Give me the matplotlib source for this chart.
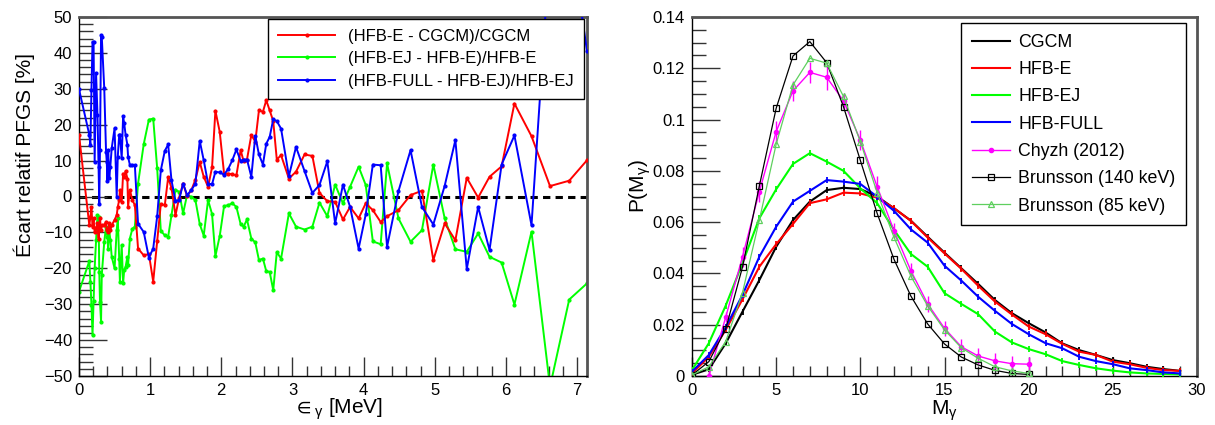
import numpy as np
import matplotlib
matplotlib.use('Agg')
import matplotlib.pyplot as plt
from matplotlib.ticker import MultipleLocator, FuncFormatter

plt.rcParams['font.family'] = ['Liberation Sans', 'DejaVu Sans']
plt.rcParams['mathtext.fontset'] = 'custom'
plt.rcParams['mathtext.rm'] = 'Liberation Sans'
plt.rcParams['mathtext.it'] = 'Liberation Sans:italic'
plt.rcParams['mathtext.fallback'] = 'stixsans'

# ---- left panel: relative differences of PFGS spectra [%] ----
energy = [0.000, 0.145, 0.160, 0.175, 0.190, 0.205, 0.220, 0.240, 0.260, 0.275,
          0.285, 0.295, 0.310, 0.320, 0.355, 0.380, 0.390, 0.400, 0.410, 0.425,
          0.440, 0.460, 0.500, 0.530, 0.545, 0.565, 0.575, 0.600, 0.620, 0.635,
          0.655, 0.680, 0.690, 0.715, 0.750, 0.785, 0.830, 0.910,
          0.982, 1.043, 1.099, 1.150, 1.206, 1.253, 1.300, 1.356, 1.407, 1.463,
          1.519, 1.580, 1.636, 1.697, 1.753, 1.814, 1.870, 1.917, 1.978, 2.039,
          2.095, 2.155, 2.212, 2.272, 2.314, 2.361, 2.422, 2.478, 2.529, 2.585, 2.632,
          2.68, 2.73, 2.78, 2.84, 2.95, 3.05, 3.17, 3.28, 3.38, 3.49,
          3.60, 3.71, 3.81, 3.93, 4.03, 4.13, 4.24, 4.33, 4.49, 4.66,
          4.82, 4.98, 5.14, 5.29, 5.45, 5.61, 5.77, 5.94, 6.12, 6.36,
          6.62, 6.89, 7.14]

rel_e_cgcm = [17.2, -8.0, -5.7, -2.9, -8.5, -6.0, -10.0, -8.9, -7.5, -11.7,
              -8.0, -6.1, -9.4, -8.0, -8.0, -7.0, -9.4, -9.0, -9.8, -7.5,
              -9.4, -8.0, -6.5, -5.2, -2.9, -1.0, 1.8, -1.5, 6.4, 5.5,
              7.1, 5.0, -2.9, 1.8, -1.0, -2.4, -14.5, -16.4,
              -16.0, -23.7, -12.4, -2.1, -2.4, 5.3, 2.4, -5.2, -0.4, 3.6,
              0.1, 1.8, 4.7, 9.6, 5.5, 2.7, 8.1, 23.9, 18.0, 6.4,
              6.4, 6.2, 5.9, 12.9, 9.8, 10.3, 17.1, 15.3, 24.0, 23.6, 26.8,
              24.0, 21.0, 10.3, 11.5, 5.0, 6.9, 11.7, 11.3, 1.0, -1.3,
              -1.5, -6.4, -2.9, -6.1, -1.9, -3.8, -7.1, -5.5, -3.8, 0.4,
              1.6, -17.7, -7.5, -12.2, 5.2, -0.3, 5.5, 8.4, 25.9, 16.8,
              2.9, 4.4, 10.1]

rel_ej_e = [-26.5, -18.0, -23.7, -30.2, -38.6, -29.2, -20.0, -12.2, -5.2, -5.7,
            -21.0, -29.3, -34.9, -21.9, -12.6, -8.4, -10.3, -11.2, -14.5, -9.4,
            -12.0, -16.8, -20.0, -9.4, -6.1, -17.3, -23.7, -13.5, -24.2, -20.5,
            -19.6, -16.8, -19.1, -11.7, -9.0, -8.4, 3.6, 14.6,
            21.4, 21.7, 7.8, -9.6, -10.8, -11.2, -5.2, 1.9, 1.3, -4.7,
            0.4, -0.1, -1.0, -7.7, -10.9, -1.0, -4.9, -16.6, -11.0, -2.7,
            -2.4, -1.9, -2.9, -7.7, -8.4, -6.4, -11.7, -12.8, -17.7, -17.3, -20.8,
            -21.0, -26.1, -15.5, -17.3, -4.7, -8.4, -9.2, -8.4, -1.7, -5.5,
            3.3, -1.9, 2.7, 8.3, 3.2, -12.5, -13.3, 9.2, -6.1, -12.6,
            -9.4, 8.9, -6.1, -14.7, -15.4, -10.3, -16.8, -18.4, -30.1, -9.8,
            -53.0, -28.7, -24.2]

rel_full_ej = [29.9, 17.2, 14.4, 29.7, 43.1, 43.0, 9.7, 34.3, 22.7, 8.3,
               -2.0, 13.0, 45.0, 44.5, 30.1, 12.5, 9.7, 4.2, 13.0, 5.1,
               8.3, 13.5, 19.0, 0.0, 11.1, 17.2, 17.2, 10.7, 22.3, 20.4,
               17.2, 14.4, 11.0, 8.8, 8.8, 8.7, -7.6, -9.9,
               -17.0, -14.5, -5.5, 7.3, 12.7, 14.5, 4.5, -1.2, -1.0, 3.6,
               0.4, 1.8, 3.6, 15.5, 10.1, 3.6, 3.4, 6.9, 6.7, 6.1,
               7.6, 10.1, 13.1, 9.9, 10.3, 10.3, 5.5, 16.9, 11.7, 8.9, 14.7,
               16.6, 21.5, 21.0, 18.9, 5.7, 13.8, 7.1, 1.0, 3.2, 9.8,
               -7.5, 3.3, -2.9, -14.5, -5.0, 8.9, 8.7, -14.0, 1.5, 12.9,
               -2.9, -7.8, 3.0, 15.7, -20.2, -2.9, -14.9, 8.9, 17.0, -8.0,
               70.0, 75.0, 40.5]

# ---- right panel: gamma multiplicity distributions ----
m_model = np.arange(0, 30)
cgcm = [0.0005, 0.0026, 0.0127, 0.0251, 0.0374, 0.0504, 0.0608, 0.0680, 0.0725, 0.0734,
        0.0729, 0.0700, 0.0654, 0.0606, 0.0543, 0.0481, 0.0420, 0.0359, 0.0296, 0.0245,
        0.0206, 0.0170, 0.0127, 0.0101, 0.0082, 0.0062, 0.0050, 0.0036, 0.0027, 0.0020]
hfb_e = [0.0010, 0.0075, 0.0180, 0.0299, 0.0426, 0.0514, 0.0593, 0.0674, 0.0689, 0.0715,
         0.0712, 0.0695, 0.0655, 0.0605, 0.0540, 0.0478, 0.0418, 0.0352, 0.0290, 0.0240,
         0.0193, 0.0163, 0.0125, 0.0095, 0.0082, 0.0056, 0.0046, 0.0032, 0.0023, 0.0020]
hfb_ej = [0.0023, 0.0128, 0.0274, 0.0440, 0.0615, 0.0728, 0.0827, 0.0869, 0.0836, 0.0800,
          0.0732, 0.0674, 0.0570, 0.0476, 0.0426, 0.0323, 0.0281, 0.0241, 0.0173, 0.0131,
          0.0105, 0.0085, 0.0058, 0.0043, 0.0030, 0.0021, 0.0014, 0.0010, 0.0008, 0.0006]
hfb_full = [0.0017, 0.0082, 0.0190, 0.0316, 0.0465, 0.0582, 0.0680, 0.0722, 0.0764, 0.0758,
            0.0749, 0.0699, 0.0644, 0.0572, 0.0520, 0.0430, 0.0372, 0.0309, 0.0254, 0.0203,
            0.0163, 0.0128, 0.0108, 0.0075, 0.0058, 0.0046, 0.0030, 0.0023, 0.0014, 0.0010]

m_chyzh = np.arange(1, 21)
chyzh = [0.0000, 0.0229, 0.0465, 0.0719, 0.0953, 0.1112, 0.1184, 0.1165, 0.1073, 0.0920,
         0.0738, 0.0567, 0.0411, 0.0281, 0.0186, 0.0114, 0.0078, 0.0059, 0.0048, 0.0046]
chyzh_err = [0.002, 0.002, 0.004, 0.004, 0.004, 0.004, 0.004, 0.005, 0.003, 0.004,
             0.004, 0.003, 0.003, 0.003, 0.003, 0.003, 0.003, 0.003, 0.003, 0.003]

m_exp = np.arange(0, 21)
brunsson_140 = [0.0004, 0.0056, 0.0183, 0.0425, 0.0741, 0.1044, 0.1248, 0.1304, 0.1222, 0.1050,
                0.0841, 0.0634, 0.0455, 0.0312, 0.0203, 0.0125, 0.0074, 0.0043, 0.0022, 0.0010,
                0.0006]
brunsson_85 = [0.0004, 0.0036, 0.0134, 0.0325, 0.0608, 0.0904, 0.1135, 0.1239, 0.1220, 0.1090,
               0.0914, 0.0715, 0.0541, 0.0390, 0.0273, 0.0180, 0.0110, 0.0069, 0.0036, 0.0020,
               0.0010]

fig = plt.figure(figsize=(12.15, 4.25), dpi=100)
ax1 = fig.add_axes([79 / 1215, 49 / 425, 508 / 1215, 359 / 425])
ax2 = fig.add_axes([692 / 1215, 49 / 425, 505 / 1215, 359 / 425])


def root_style(ax):
    ax.tick_params(which='both', direction='in', top=False, right=False,
                   labelsize=12, width=1, color='#333333')
    ax.tick_params(which='major', length=14, pad=5)
    ax.tick_params(which='minor', length=7)
    ax.tick_params(axis='y', which='major', length=20)
    ax.tick_params(axis='y', which='minor', length=10)
    for s in ['left', 'bottom']:
        ax.spines[s].set_color('black')
        ax.spines[s].set_linewidth(1)
    for s in ['top', 'right']:
        ax.spines[s].set_color('#555555')
        ax.spines[s].set_linewidth(2)


# left
ax1.axhline(0, color='black', lw=2.2, ls=(0, (2.4, 1.7)), zorder=1)
ax1.plot(energy, rel_e_cgcm, color='#ff0000', lw=1.4, marker='.', ms=4,
         label='(HFB-E - CGCM)/CGCM', zorder=3)
ax1.plot(energy, rel_ej_e, color='#00ff00', lw=1.4, marker='.', ms=4,
         label='(HFB-EJ - HFB-E)/HFB-E', zorder=2)
ax1.plot(energy, rel_full_ej, color='#0000ff', lw=1.4, marker='.', ms=4,
         label='(HFB-FULL - HFB-EJ)/HFB-EJ', zorder=4)
ax1.set_xlim(0, 7.14)
ax1.set_ylim(-50, 50)
ax1.xaxis.set_major_locator(MultipleLocator(1))
ax1.xaxis.set_minor_locator(MultipleLocator(0.2))
ax1.yaxis.set_major_locator(MultipleLocator(10))
ax1.yaxis.set_minor_locator(MultipleLocator(2))
root_style(ax1)
ax1.set_xlabel(r'$\in_{\mathrm{γ}}$ [MeV]', fontsize=15)
ax1.xaxis.set_label_coords(0.51, -0.058)
ax1.set_ylabel('Écart relatif PFGS [%]', fontsize=15)
ax1.yaxis.set_label_coords(-0.087, 0.615)
leg1 = ax1.legend(loc='upper right', bbox_to_anchor=(0.994, 0.995), fontsize=12,
                  frameon=True, fancybox=False, edgecolor='black', framealpha=1,
                  borderpad=0.6, labelspacing=0.45, handlelength=3.4,
                  handletextpad=0.8, borderaxespad=0, numpoints=1)
leg1.get_frame().set_linewidth(1)

# right: model curves (line only in legend) with point markers drawn separately
h_cgcm, = ax2.plot(m_model, cgcm, color='black', lw=1.5, zorder=3)
h_e, = ax2.plot(m_model, hfb_e, color='#ff0000', lw=1.5, zorder=3)
h_ej, = ax2.plot(m_model, hfb_ej, color='#00ff00', lw=1.5, zorder=3)
h_full, = ax2.plot(m_model, hfb_full, color='#0000ff', lw=1.5, zorder=3)
for y, c in [(cgcm, 'black'), (hfb_e, '#ff0000'), (hfb_ej, '#00ff00'), (hfb_full, '#0000ff')]:
    ax2.plot(m_model, y, ls='none', marker='|', ms=4, mew=1.3, color=c, zorder=3)
ax2.errorbar(m_chyzh, chyzh, yerr=chyzh_err, fmt='none', ecolor='#ff00ff',
             elinewidth=1, capsize=0, zorder=4)
h_chyzh, = ax2.plot(m_chyzh, chyzh, color='#ff00ff', lw=1, marker='o', ms=3, zorder=4)
h_b140, = ax2.plot(m_exp, brunsson_140, color='black', lw=0.9, marker='s', ms=4.5,
                   mfc='none', mew=0.9, zorder=5)
h_b85, = ax2.plot(m_exp, brunsson_85, color='#5fcf5f', lw=0.9, marker='^', ms=5,
                  mfc='none', mew=0.9, zorder=5)
ax2.set_xlim(0, 30)
ax2.set_ylim(0, 0.14)
ax2.xaxis.set_major_locator(MultipleLocator(5))
ax2.xaxis.set_minor_locator(MultipleLocator(1))
ax2.yaxis.set_major_locator(MultipleLocator(0.02))
ax2.yaxis.set_minor_locator(MultipleLocator(0.005))
ax2.yaxis.set_major_formatter(FuncFormatter(lambda v, p: '0' if abs(v) < 1e-9 else '%g' % v))
root_style(ax2)
ax2.set_xlabel(r'M$_{\mathrm{γ}}$', fontsize=15)
ax2.xaxis.set_label_coords(0.5, -0.062)
ax2.set_ylabel(r'P(M$_{\mathrm{γ}}$)', fontsize=15)
ax2.yaxis.set_label_coords(-0.078, 0.53)
leg2 = ax2.legend([h_cgcm, h_e, h_ej, h_full, h_chyzh, h_b140, h_b85],
                  ['CGCM', 'HFB-E', 'HFB-EJ', 'HFB-FULL', 'Chyzh (2012)',
                   'Brunsson (140 keV)', 'Brunsson (85 keV)'],
                  loc='upper right', bbox_to_anchor=(0.979, 0.983), fontsize=12.8,
                  frameon=True, fancybox=False, edgecolor='black', framealpha=1,
                  borderpad=0.6, labelspacing=0.58, handlelength=2.13,
                  handletextpad=0.5, borderaxespad=0, numpoints=1)
leg2.get_frame().set_linewidth(1)

fig.savefig('out.png', dpi=100)
